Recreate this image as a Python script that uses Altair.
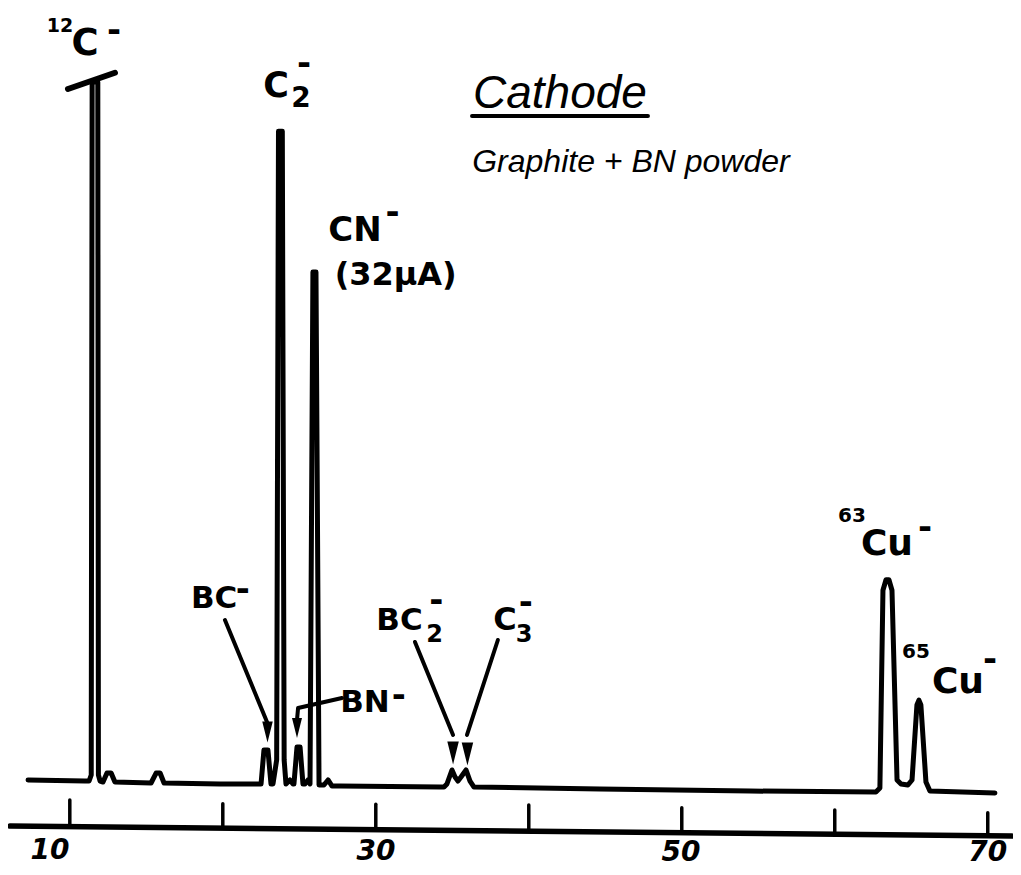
import altair as alt
import pandas as pd

# ---------------- spectrum trace (mass in amu, signal in arbitrary units) ----------------
trace_mass = [7.27, 10.99, 11.26, 11.40, 11.46, 11.83, 11.87, 11.98,
              12.17, 12.43, 12.70, 12.95, 15.31, 15.64, 15.90, 16.16,
              19.82, 22.50, 22.69, 22.95, 23.15, 23.28, 23.52, 23.64, 23.89, 24.01, 24.13,
              24.26, 24.39, 24.59, 24.65, 24.85, 25.05, 25.24, 25.37, 25.57, 25.70,
              25.89, 26.09, 26.29, 26.61, 26.88, 27.14, 27.66, 34.20,
              34.46, 34.65, 34.98, 35.18, 35.37, 35.57, 35.90, 36.16, 36.42,
              44.65, 54.46, 62.69, 62.95, 63.15, 63.35, 63.54, 63.74, 64.07, 64.33,
              64.78, 65.05, 65.37, 65.50, 65.63, 65.96, 66.22, 70.47]
trace_signal = [0.36, 0.21, 0.21, 1.07, 99.5, 99.5, 1.07, 0.21,
                0.07, 1.35, 1.35, 0.07, -0.07, 1.35, 1.35, -0.07,
                -0.21, -0.21, 4.62, 4.62, -0.21, -0.21, 3.2, 92.5, 92.5, 3.2, -0.21,
                0.07, 0.36, -0.21, -0.21, 5.04, 5.04, -0.21, -0.21, 0.36, -0.21,
                72.5, 72.5, -0.36, -0.36, 0.36, -0.5, -0.5, -0.64,
                -0.64, -0.21, 1.78, 0.78, 0.21, 0.78, 1.78, 0.21, -0.64,
                -0.92, -1.21, -1.35, -0.78, 27.3, 28.8, 28.8, 27.3, 0.36, -0.21,
                -0.36, 0.36, 11.0, 11.7, 11.0, 0.07, -1.21, -1.49]

# off-scale marker on top of the 12C- peak
cap_mass = [9.88, 12.95]
cap_signal = [98.5, 100.8]

# ---------------- hand-drawn mass axis ----------------
axis_mass = [6.09, 71.58]
axis_signal = [-6.18, -7.6]
tick_mass = [10, 20, 30, 40, 50, 60, 70]
tick_top = [-2.5, -3.0, -3.1, -3.2, -3.6, -3.9, -4.3]
tick_bottom = [-6.3, -6.5, -6.7, -6.9, -7.1, -7.4, -7.6]
tick_text = ["10", "30", "50", "70"]
tick_text_mass = [8.71, 30.01, 49.95, 70.0]
tick_text_signal = [-10.9, -11.0, -11.1, -11.2]

# ---------------- peak labels ----------------
label_text = ["12", "C", "C", "2", "CN", "(32μA)", "BC", "BN", "BC", "2", "C", "3",
              "63", "Cu", "65", "Cu"]
label_mass = [9.36, 11.00, 23.48, 25.11, 28.64, 31.30, 19.43, 29.29, 31.55, 33.85,
              38.44, 39.69, 61.12, 63.41, 65.31, 68.05]
label_signal = [106.6, 103.3, 97.3, 95.9, 76.9, 70.6, 24.8, 10.0, 21.7, 19.9,
                21.7, 20.0, 37.0, 32.3, 17.7, 12.7]
label_size = [19, 37, 35, 28, 34, 32, 31, 31, 31, 24, 32, 24, 20, 36, 20, 36]

minus_mass = [12.90, 25.31, 31.10, 21.30, 31.50, 33.95, 39.80, 65.90, 70.15]
minus_signal = [106.7, 102.1, 80.9, 27.3, 12.3, 25.8, 25.5, 36.2, 17.4]

# title block
title_text = ["Cathode", "Graphite + BN powder"]
title_mass = [42.04, 46.68]
title_signal = [95.8, 86.7]
title_size = [46, 32]
underline_mass = [36.29, 47.79]
underline_signal = [94.67, 94.67]

# ---------------- arrows ----------------
arrow_id = ["BC", "BC", "BN", "BN", "BN", "BC2", "BC2", "C3", "C3"]
arrow_mass = [20.14, 22.89, 27.79, 24.92, 24.85, 32.56, 35.05, 37.98, 35.96]
arrow_signal = [23.08, 8.6, 12.0, 10.58, 8.88, 19.96, 6.75, 20.24, 6.75]
head_mass = [22.92, 24.85, 35.05, 35.99]
head_signal = [7.17, 7.74, 4.19, 4.05]
head_size = [441, 400, 529, 529]

# ---------------- build chart ----------------
XS = alt.Scale(domain=[5.96, 71.65], nice=False, zero=False)
YS = alt.Scale(domain=[-12, 110], nice=False, zero=False)


def X(f):
    return alt.X(f, type="quantitative", scale=XS, axis=None)


def Y(f):
    return alt.Y(f, type="quantitative", scale=YS, axis=None)


df_trace = pd.DataFrame({"m": trace_mass, "v": trace_signal, "i": list(range(len(trace_mass)))})
spectrum = alt.Chart(df_trace).mark_line(
    color="black", strokeWidth=5, strokeJoin="round", strokeCap="round"
).encode(x=X("m"), y=Y("v"), order="i:Q")

df_cap = pd.DataFrame({"m": [cap_mass[0]], "m2": [cap_mass[1]], "v": [cap_signal[0]], "v2": [cap_signal[1]]})
cap = alt.Chart(df_cap).mark_rule(color="black", strokeWidth=6, strokeCap="round").encode(
    x=X("m"), x2="m2", y=Y("v"), y2="v2")

df_axis = pd.DataFrame({"m": [axis_mass[0]], "m2": [axis_mass[1]], "v": [axis_signal[0]], "v2": [axis_signal[1]]})
axis_line = alt.Chart(df_axis).mark_rule(color="black", strokeWidth=5.5, strokeCap="round").encode(
    x=X("m"), x2="m2", y=Y("v"), y2="v2")

df_ticks = pd.DataFrame({"m": tick_mass, "t": tick_top, "b": tick_bottom})
ticks = alt.Chart(df_ticks).mark_rule(color="black", strokeWidth=3.5, strokeCap="round").encode(
    x=X("m"), y=Y("t"), y2="b")

df_tl = pd.DataFrame({"txt": tick_text, "m": tick_text_mass, "v": tick_text_signal})
tick_labels = alt.Chart(df_tl).mark_text(
    font="DejaVu Sans", fontWeight="bold", fontStyle="italic", fontSize=28,
    align="center", baseline="alphabetic", color="black"
).encode(x=X("m"), y=Y("v"), text="txt:N")

df_lab = pd.DataFrame({"txt": label_text, "m": label_mass, "v": label_signal, "fs": label_size})
labels = alt.Chart(df_lab).mark_text(
    font="DejaVu Sans", fontWeight="bold", align="center", baseline="alphabetic", color="black"
).encode(x=X("m"), y=Y("v"), text="txt:N", size=alt.Size("fs:Q", scale=None, legend=None))

df_minus = pd.DataFrame({"m": minus_mass, "v": minus_signal, "txt": ["-"] * len(minus_mass)})
minus = alt.Chart(df_minus).mark_text(
    font="DejaVu Sans", fontWeight="bold", fontSize=34, align="center", baseline="middle", color="black"
).encode(x=X("m"), y=Y("v"), text="txt:N")

df_title = pd.DataFrame({"txt": title_text, "m": title_mass, "v": title_signal, "fs": title_size})
titles = alt.Chart(df_title).mark_text(
    font="Liberation Sans", fontStyle="italic", align="center", baseline="alphabetic", color="black"
).encode(x=X("m"), y=Y("v"), text="txt:N", size=alt.Size("fs:Q", scale=None, legend=None))

df_ul = pd.DataFrame({"m": [underline_mass[0]], "m2": [underline_mass[1]], "v": [underline_signal[0]], "v2": [underline_signal[1]]})
underline = alt.Chart(df_ul).mark_rule(color="black", strokeWidth=4, strokeCap="round").encode(
    x=X("m"), x2="m2", y=Y("v"), y2="v2")

df_arrow = pd.DataFrame({"g": arrow_id, "m": arrow_mass, "v": arrow_signal, "i": list(range(len(arrow_id)))})
arrows = alt.Chart(df_arrow).mark_line(
    color="black", strokeWidth=4, strokeCap="round", strokeJoin="round"
).encode(x=X("m"), y=Y("v"), detail="g:N", order="i:Q")

df_head = pd.DataFrame({"m": head_mass, "v": head_signal, "s": head_size})
heads = alt.Chart(df_head).mark_point(
    shape="M -0.5 -1 L 0.5 -1 L 0 1 Z", filled=True, color="black", opacity=1
).encode(x=X("m"), y=Y("v"), size=alt.Size("s:Q", scale=None, legend=None))

chart = alt.layer(
    axis_line, ticks, tick_labels, spectrum, cap, arrows, heads, labels, minus, titles, underline
).properties(
    width=1005, height=859, autosize=alt.AutoSizeParams(type="none"), padding=0,
    background="white"
).configure_view(stroke=None)

chart.save("out.html", embed_options={"renderer": "svg", "actions": False})
